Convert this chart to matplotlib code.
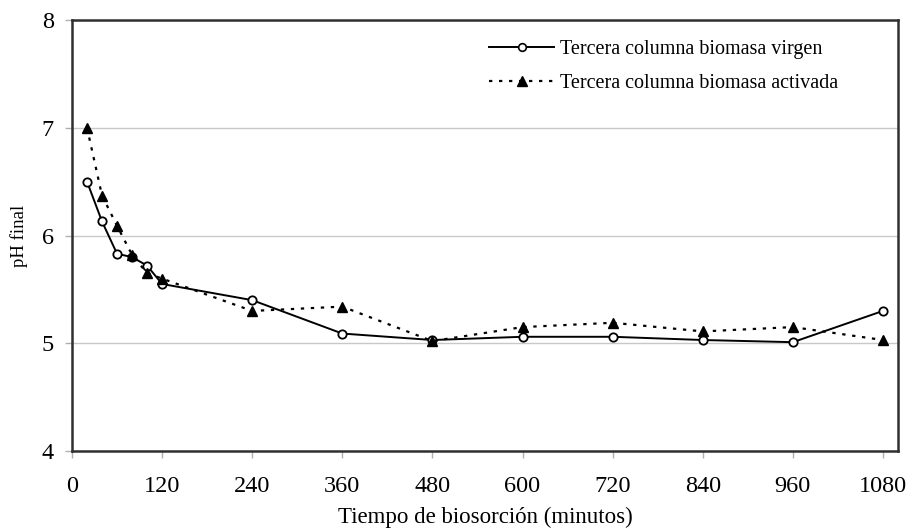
import matplotlib
matplotlib.use("Agg")
import matplotlib.pyplot as plt
from matplotlib.lines import Line2D

plt.rcParams['font.family'] = ['Liberation Serif', 'DejaVu Serif']

tiempo = [20, 40, 60, 80, 100, 120, 240, 360, 480, 600, 720, 840, 960, 1080]
ph_virgen = [6.50, 6.13, 5.83, 5.80, 5.72, 5.55, 5.40, 5.09, 5.03, 5.06, 5.06, 5.03, 5.01, 5.30]
ph_activada = [7.00, 6.37, 6.09, 5.82, 5.65, 5.60, 5.30, 5.34, 5.02, 5.15, 5.19, 5.11, 5.15, 5.03]
label_virgen = "Tercera columna biomasa virgen"
label_activada = "Tercera columna biomasa activada"
xticks = list(range(0, 1081, 120))
yticks = [4, 5, 6, 7, 8]

fig = plt.figure(figsize=(9.09, 5.30), dpi=100)
ax = fig.add_axes([72/909, 1 - 451/530, (898-72)/909, (451-20)/530])

ax.set_xlim(0, 1100)
ax.set_ylim(4, 8)
ax.set_xticks(xticks)
ax.set_yticks(yticks)
ax.tick_params(axis='both', direction='out', length=5, width=1, color='#b0b0b0',
               labelsize=17.5, pad=8)
ax.tick_params(axis='x', pad=13)
ax.grid(axis='y', color='#c8c8c8', linewidth=1)
ax.set_axisbelow(True)
for s in ax.spines.values():
    s.set_color('#303030')
    s.set_linewidth(1.8)

ax.plot(tiempo, ph_virgen, '-', color='black', linewidth=1.4,
        marker='o', markersize=6, markerfacecolor='white', markeredgecolor='black',
        markeredgewidth=1.3, label=label_virgen, zorder=3)
ax.plot(tiempo, ph_activada, linestyle=(0, (1.5, 3)), color='black', linewidth=1.6,
        marker='^', markersize=7, markerfacecolor='black', markeredgecolor='black',
        label=label_activada, zorder=3)

ax.set_xlabel("Tiempo de biosorción (minutos)", fontsize=16.5, labelpad=7)
ax.set_ylabel("pH final", fontsize=13.5, labelpad=10)

h1 = Line2D([], [], color='black', linewidth=1.4, marker='o', markersize=5.5,
            markerfacecolor='white', markeredgecolor='black', markeredgewidth=1.2)
h2 = Line2D([], [], color='black', linewidth=1.6, linestyle=(0, (1.5, 3)), marker='^',
            markersize=7, markerfacecolor='black', markeredgecolor='black')
leg = ax.legend([h1, h2], [label_virgen, label_activada], loc='upper right',
                bbox_to_anchor=(846/909, 1 - 32/530), bbox_transform=fig.transFigure,
                frameon=False, fontsize=14.5, handlelength=3.2, handletextpad=0.3,
                labelspacing=0.75, borderaxespad=0)

fig.savefig("out.png", dpi=100)
